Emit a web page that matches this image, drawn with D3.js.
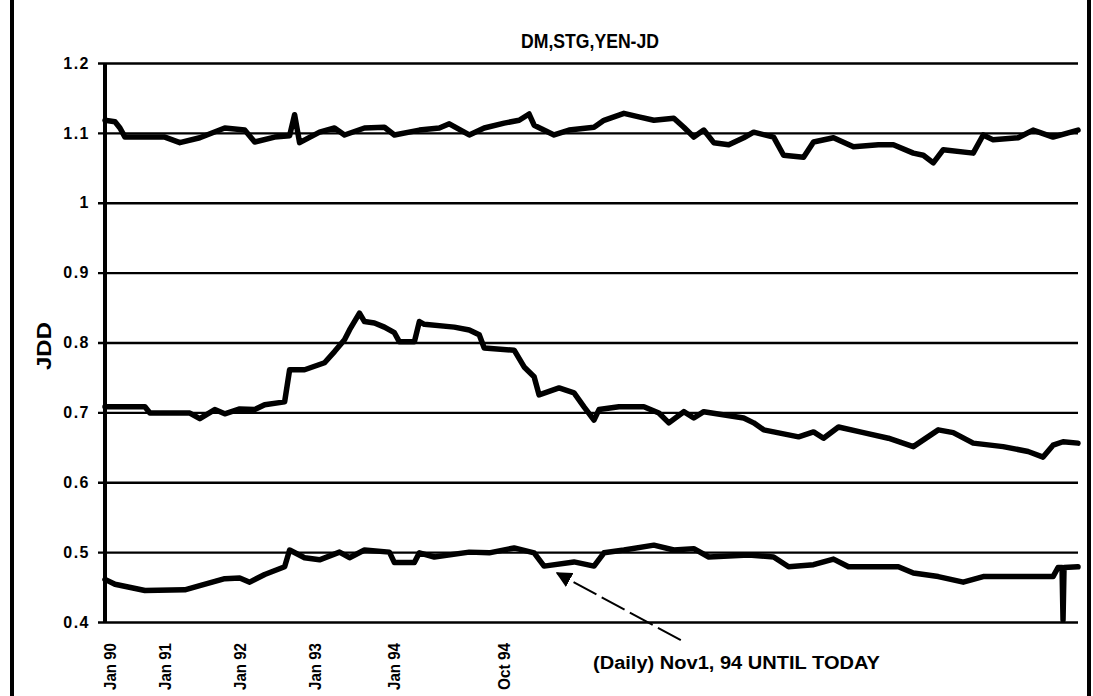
<!DOCTYPE html>
<html>
<head>
<meta charset="utf-8">
<script src="https://cdn.jsdelivr.net/npm/d3@7"></script>
<style>
  body { margin: 0; background: #fff; }
  text { font-family: "Liberation Sans", Arial, sans-serif; fill: #000; }
</style>
</head>
<body>
<div id="chart"></div>
<script>
// observation number (monthly until Oct 94, daily afterwards) and JD value
const stgObs = [0, 2, 3, 4, 8, 12, 15, 19, 24, 28, 30, 34, 37, 38, 39, 43, 46, 48, 52, 56, 58, 63, 67, 69, 73, 76, 80, 83, 85, 86, 90, 93, 98, 100, 104, 107, 110, 114, 116, 118, 120, 122, 125, 128, 130, 134, 136, 140, 142, 146, 150, 155, 158, 162, 164, 166, 168, 174, 176, 178, 183, 186, 190, 195];
const stgVal = [1.118, 1.116, 1.107, 1.094, 1.094, 1.094, 1.086, 1.093, 1.107, 1.104, 1.087, 1.094, 1.096, 1.126, 1.086, 1.101, 1.107, 1.097, 1.107, 1.108, 1.097, 1.104, 1.107, 1.113, 1.097, 1.107, 1.114, 1.118, 1.127, 1.111, 1.097, 1.104, 1.108, 1.118, 1.128, 1.123, 1.118, 1.121, 1.108, 1.094, 1.104, 1.086, 1.083, 1.093, 1.101, 1.094, 1.068, 1.065, 1.087, 1.093, 1.080, 1.083, 1.083, 1.071, 1.068, 1.057, 1.076, 1.071, 1.097, 1.090, 1.093, 1.104, 1.094, 1.104];

const yenObs = [0, 8, 9, 17, 19, 22, 24, 27, 30, 32, 36, 37, 40, 44, 46, 48, 49, 51, 52, 54, 56, 58, 59, 62, 63, 64, 70, 73, 75, 76, 82, 84, 86, 87, 91, 94, 96, 98, 99, 103, 108, 111, 113, 116, 118, 120, 128, 130, 132, 139, 142, 144, 147, 152, 157, 162, 167, 170, 174, 180, 185, 188, 190, 192, 195];
const yenVal = [0.708, 0.708, 0.699, 0.699, 0.691, 0.704, 0.698, 0.705, 0.704, 0.711, 0.715, 0.761, 0.761, 0.771, 0.787, 0.804, 0.818, 0.842, 0.830, 0.828, 0.822, 0.814, 0.801, 0.801, 0.830, 0.826, 0.822, 0.818, 0.811, 0.792, 0.789, 0.765, 0.751, 0.725, 0.735, 0.728, 0.708, 0.689, 0.704, 0.708, 0.708, 0.699, 0.685, 0.701, 0.692, 0.701, 0.692, 0.685, 0.675, 0.665, 0.672, 0.663, 0.679, 0.671, 0.663, 0.651, 0.675, 0.671, 0.656, 0.651, 0.644, 0.636, 0.653, 0.658, 0.656];

const dmObs = [0, 2, 8, 16, 19, 24, 27, 29, 32, 36, 37, 40, 43, 47, 49, 52, 57, 58, 62, 63, 66, 73, 77, 82, 86, 88, 94, 98, 100, 104, 110, 114, 118, 121, 129, 134, 137, 142, 146, 149, 159, 162, 167, 172, 176, 190, 191, 191.8, 192, 192.2, 195];
const dmVal = [0.461, 0.454, 0.445, 0.446, 0.452, 0.462, 0.463, 0.457, 0.468, 0.479, 0.503, 0.492, 0.489, 0.500, 0.492, 0.503, 0.500, 0.485, 0.485, 0.499, 0.493, 0.500, 0.499, 0.506, 0.499, 0.480, 0.486, 0.480, 0.499, 0.503, 0.510, 0.503, 0.505, 0.493, 0.496, 0.493, 0.479, 0.482, 0.490, 0.479, 0.479, 0.470, 0.465, 0.457, 0.465, 0.465, 0.478, 0.478, 0.403, 0.478, 0.479];

const tickObs = [1, 12, 27, 42, 58, 80];
const tickLabels = ["Jan 90", "Jan 91", "Jan 92", "Jan 93", "Jan 94", "Oct 94"];
const yTicks = [0.4, 0.5, 0.6, 0.7, 0.8, 0.9, 1.0, 1.1, 1.2];

const W = 1093, H = 696;
const margin = { top: 63, right: 15, bottom: 74, left: 105 };

const svg = d3.select("#chart").append("svg")
  .attr("width", W)
  .attr("height", H);

// bordes de la hoja escaneada
svg.append("line").attr("x1", 12).attr("x2", 12).attr("y1", 0).attr("y2", H)
  .attr("stroke", "#000").attr("stroke-width", 4);
svg.append("line").attr("x1", 1089).attr("x2", 1089).attr("y1", 0).attr("y2", H)
  .attr("stroke", "#000").attr("stroke-width", 4);

const x = d3.scaleLinear().domain([0, 195]).range([margin.left, W - margin.right]);
const y = d3.scaleLinear().domain([0.4, 1.2]).range([H - margin.bottom, margin.top]);

// rejilla + eje y
const yAxis = svg.append("g")
  .attr("transform", "translate(" + margin.left + ",0)")
  .call(d3.axisLeft(y).tickValues(yTicks)
    .tickSize(-(W - margin.right - margin.left))
    .tickPadding(15)
    .tickFormat(d => d3.format("")(+d.toFixed(1))));
yAxis.select(".domain").remove();
yAxis.selectAll(".tick line")
  .attr("x1", -7)
  .attr("stroke", "#000")
  .attr("stroke-width", 2.4);
yAxis.selectAll(".tick text")
  .style("font-size", "16px")
  .style("letter-spacing", "1.5px")
  .attr("font-weight", "bold");

svg.append("line")
  .attr("x1", margin.left).attr("x2", margin.left)
  .attr("y1", y(1.2)).attr("y2", y(0.4))
  .attr("stroke", "#000").attr("stroke-width", 4);

// etiquetas x (giradas)
svg.selectAll("text.xlab")
  .data(tickObs)
  .enter()
  .append("text")
  .attr("class", "xlab")
  .attr("transform", (d) => "translate(" + x(d) + "," + (y(0.4) + 21) + ") rotate(-90)")
  .attr("dy", "0.35em")
  .attr("text-anchor", "end")
  .style("font-size", "17px")
  .attr("font-weight", "bold")
  .attr("textLength", 47)
  .attr("lengthAdjust", "spacingAndGlyphs")
  .text((d, i) => tickLabels[i]);

// series
const line = d3.line()
  .x((d) => x(d[0]))
  .y((d) => y(d[1]));

const series = [
  d3.zip(stgObs, stgVal),
  d3.zip(yenObs, yenVal),
  d3.zip(dmObs, dmVal),
];

svg.selectAll("path.serie")
  .data(series)
  .enter()
  .append("path")
  .attr("class", "serie")
  .attr("d", line)
  .attr("fill", "none")
  .attr("stroke", "#000")
  .attr("stroke-width", 5.5)
  .attr("stroke-linejoin", "round")
  .attr("stroke-linecap", "round");

// titulo
svg.append("text")
  .attr("x", 590)
  .attr("y", 48)
  .attr("text-anchor", "middle")
  .style("font-size", "21px")
  .attr("font-weight", "bold")
  .attr("textLength", 138)
  .attr("lengthAdjust", "spacingAndGlyphs")
  .text("DM,STG,YEN-JD");

// titulo eje y
svg.append("text")
  .attr("transform", "translate(51,346) rotate(-90)")
  .attr("text-anchor", "middle")
  .style("font-size", "20px")
  .attr("font-weight", "bold")
  .attr("textLength", 48)
  .attr("lengthAdjust", "spacingAndGlyphs")
  .text("JDD");

// flecha de la anotacion
const defs = svg.append("defs");
defs.append("marker")
  .attr("id", "flecha")
  .attr("viewBox", "0 0 10 10")
  .attr("refX", 9).attr("refY", 5)
  .attr("markerWidth", 8).attr("markerHeight", 8)
  .attr("orient", "auto")
  .append("path")
  .attr("d", "M0,0 L10,5 L0,10 z")
  .attr("fill", "#000");

svg.append("line")
  .attr("x1", x(115.4)).attr("y1", y(0.374))
  .attr("x2", x(90.6)).attr("y2", y(0.470))
  .attr("stroke", "#000")
  .attr("stroke-width", 2)
  .attr("stroke-dasharray", "26,6")
  .attr("marker-end", "url(#flecha)");

svg.append("text")
  .attr("x", 593)
  .attr("y", 669)
  .style("font-size", "18px")
  .attr("font-weight", "bold")
  .attr("textLength", 287)
  .attr("lengthAdjust", "spacingAndGlyphs")
  .text("(Daily) Nov1, 94 UNTIL TODAY");
</script>
</body>
</html>
